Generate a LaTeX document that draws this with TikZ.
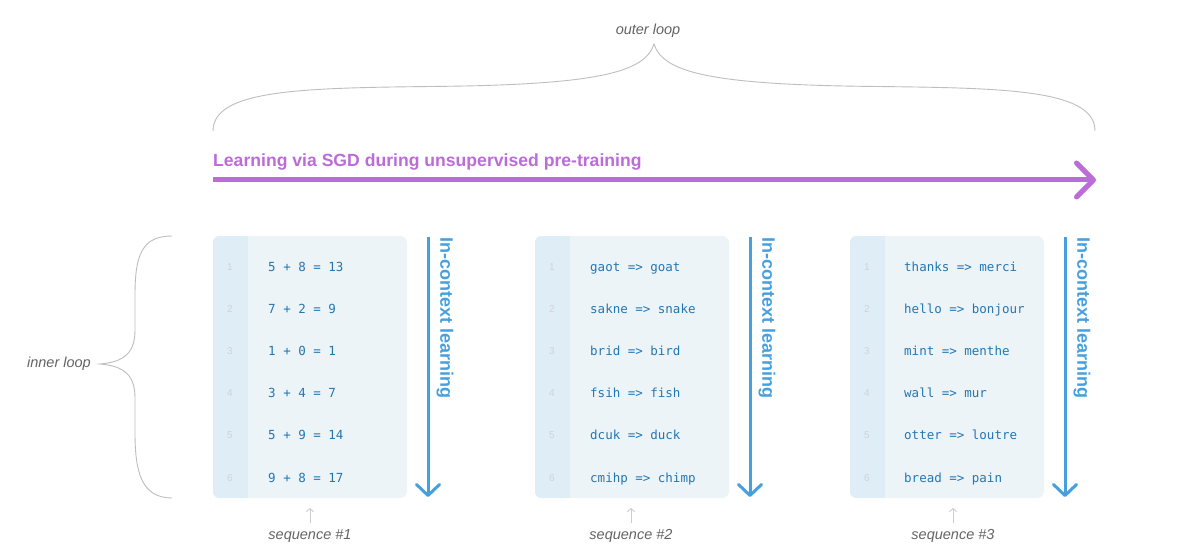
\documentclass[tikz,border=0pt]{standalone}
\usepackage{fontspec}
\setmainfont{Liberation Sans}
\newfontfamily\codefont{DejaVu Sans Mono}
\usetikzlibrary{arrows.meta}
\definecolor{boxbg}{RGB}{236,244,248}
\definecolor{gutbg}{RGB}{223,237,246}
\definecolor{numgray}{RGB}{205,212,217}
\definecolor{codeblue}{RGB}{36,118,178}
\definecolor{arrblue}{RGB}{70,160,222}
\definecolor{sgdpurple}{RGB}{187,108,217}
\definecolor{bracegray}{RGB}{190,190,190}
\definecolor{labgray}{RGB}{100,100,100}
\definecolor{seqgray}{RGB}{205,205,205}
\tikzset{
  codebox/.style={fill=boxbg, rounded corners=7pt, minimum width=194pt, minimum height=262pt, inner sep=0pt, draw=none},
  codeline/.style={anchor=west, inner sep=0pt, text=codeblue, font=\codefont\fontsize{12.5}{14}\selectfont, text height=9pt, text depth=0pt},
  numline/.style={anchor=center, inner sep=0pt, text=numgray, font=\fontsize{10}{11}\selectfont, text height=7.2pt, text depth=0pt},
  icl/.style={rotate=-90, anchor=west, inner sep=0pt, text=arrblue, font=\bfseries\fontsize{18}{20}\selectfont},
  iclarrow/.style={draw=arrblue, line width=3pt, -{Straight Barb[length=11pt,width=23pt,round]}},
  seqlabel/.style={inner sep=0pt, text=labgray, font=\itshape\fontsize{14.5}{16}\selectfont},
  seqarrow/.style={draw=seqgray, line width=0.9pt, -{Straight Barb[length=3pt,width=7pt]}},
  bracepath/.style={draw=bracegray, line width=0.9pt},
  looplabel/.style={inner sep=0pt, text=labgray, font=\itshape\fontsize{14.5}{16}\selectfont},
}
\begin{document}
\begin{tikzpicture}[x=1pt,y=-1pt]
\useasboundingbox (0,0) rectangle (1191,556);
\fill[white] (0,0) rectangle (1191,556);

% outer loop brace
\node[looplabel] (outer) at (648,31) {outer loop};
\coordinate (obL) at (213,131);
\coordinate (obM) at (654,44);
\coordinate (obR) at (1095,131);
\draw[bracepath] (obL) .. controls (213,90) and (300,88) .. (430,86.5)
  .. controls (600,85) and (645,72) .. (obM)
  .. controls (663,72) and (708,85) .. (878,86.5)
  .. controls (1008,88) and (1095,90) .. (obR);

% SGD arrow
\node[anchor=base west, inner sep=0pt, text=sgdpurple, font=\bfseries\fontsize{17.6}{20}\selectfont] (title) at (213,167) {Learning via SGD during unsupervised pre-training};
\coordinate (sgdS) at (213,180);
\coordinate (sgdE) at (1096,180);
\draw[draw=sgdpurple, line width=5pt, -{Straight Barb[length=17pt,width=34pt,round]}] (sgdS) -- (sgdE);

% inner loop brace
\node[looplabel, anchor=east] (inner) at (91,364) {inner loop};
\coordinate (ibT) at (172,236);
\coordinate (ibM) at (100,364);
\coordinate (ibB) at (172,498);
\draw[bracepath] (ibT) .. controls (142,236) and (135,255) .. (135,295)
  -- (135,330) .. controls (135,352) and (125,362) .. (ibM)
  .. controls (125,366) and (135,376) .. (135,398)
  -- (135,433) .. controls (135,473) and (142,498) .. (ibB);

% panels
\foreach \p/\L/\A/\T/\S/\lab in {1/213/428/445/310/{sequence \#1}, 2/535/750/767/631/{sequence \#2}, 3/850/1065/1082/953/{sequence \#3}}{
  \node[codebox] (box\p) at (\L+97,367) {};
  \begin{scope}
    \clip[rounded corners=7pt] (box\p.north west) rectangle (box\p.south east);
    \fill[gutbg] (box\p.north west) rectangle ++(35,262);
  \end{scope}
  \foreach \i in {1,...,6}{
    \node[numline] (n\p-\i) at (\L+17,{266.5+42.2*(\i-1)}) {\i};
  }
  \coordinate (aS\p) at (\A,237);
  \coordinate (aE\p) at (\A,497);
  \draw[iclarrow] (aS\p) -- (aE\p);
  \node[icl] (icl\p) at (\T,237) {In-context learning};
  \node[seqlabel] (seq\p) at (\S,536) {\lab};
  \coordinate (sS\p) at (\S,523);
  \coordinate (sE\p) at (\S,508);
  \draw[seqarrow] (sS\p) -- (sE\p);
}

% code lines
\foreach \i/\t in {1/{5 + 8 = 13},2/{7 + 2 = 9},3/{1 + 0 = 1},4/{3 + 4 = 7},5/{5 + 9 = 14},6/{9 + 8 = 17}}{
  \node[codeline] (c1-\i) at (268,{266.5+42.2*(\i-1)}) {\t};
}
\foreach \i/\t in {1/{gaot => goat},2/{sakne => snake},3/{brid => bird},4/{fsih => fish},5/{dcuk => duck},6/{cmihp => chimp}}{
  \node[codeline] (c2-\i) at (590,{266.5+42.2*(\i-1)}) {\t};
}
\foreach \i/\t in {1/{thanks => merci},2/{hello => bonjour},3/{mint => menthe},4/{wall => mur},5/{otter => loutre},6/{bread => pain}}{
  \node[codeline] (c3-\i) at (904,{266.5+42.2*(\i-1)}) {\t};
}
\end{tikzpicture}
\end{document}
